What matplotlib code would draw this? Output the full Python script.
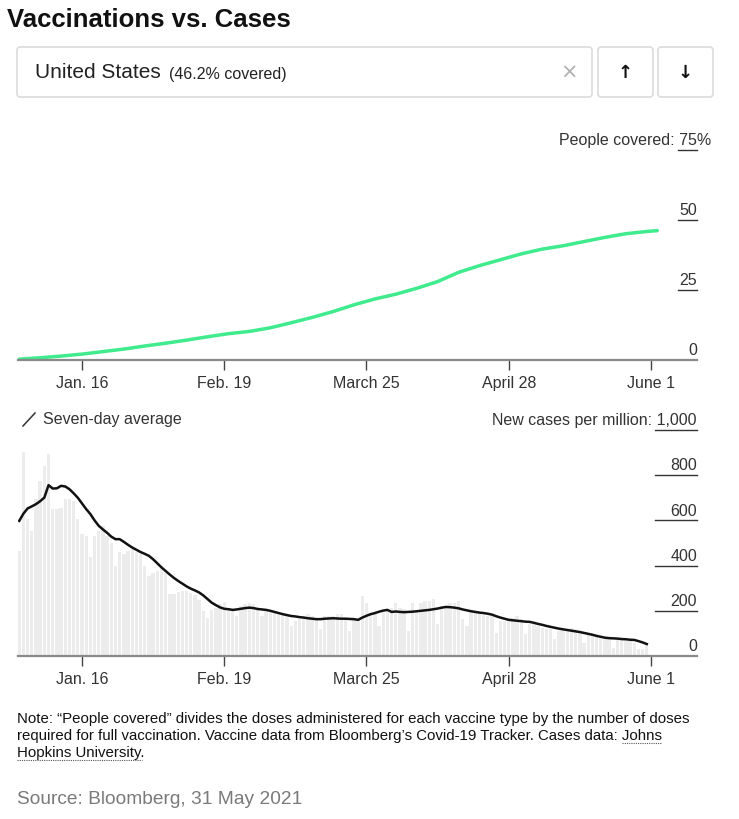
import matplotlib
matplotlib.use("Agg")
import matplotlib.pyplot as plt
from matplotlib.patches import FancyBboxPatch
from matplotlib import font_manager as fm
import numpy as np

# ---------------- data ----------------
tick_labels = ["Jan. 16", "Feb. 19", "March 25", "April 28", "June 1"]
tick_days = [15, 49, 83, 117, 151]          # days since Jan 1, 2021

# People covered (%) -- read at these days
vacc_days = [0, 5, 10, 15, 20, 25, 30, 35, 40, 45, 50, 55, 60, 65, 70, 75, 80,
             85, 90, 95, 100, 105, 110, 115, 120, 125, 130, 135, 140, 145, 150, 152.5]
vacc_pct = [0.3, 0.8, 1.4, 2.1, 3.0, 3.9, 5.0, 6.0, 7.1, 8.3, 9.4, 10.2, 11.5, 13.3,
            15.2, 17.3, 19.7, 21.8, 23.5, 25.6, 28.0, 31.3, 33.7, 35.8, 37.9, 39.6,
            40.8, 42.3, 43.8, 45.1, 45.9, 46.2]

# Daily new cases per million (Jan 1 .. May 31)
daily_cases = [465, 903, 604, 554, 694, 775, 841, 893, 650, 650,
               657, 694, 694, 686, 604, 538, 531, 436, 531, 554,
               576, 531, 502, 400, 458, 451, 465, 472, 458, 451,
               398, 354, 369, 376, 398, 369, 273, 273, 285, 287,
               287, 280, 270, 250, 200, 170, 205, 212, 232, 240,
               210, 200, 177, 222, 229, 236, 229, 214, 177, 200,
               200, 192, 185, 185, 177, 133, 155, 162, 177, 185,
               175, 162, 118, 177, 177, 177, 185, 185, 170, 111,
               162, 162, 266, 236, 192, 192, 133, 199, 207, 214,
               236, 214, 207, 111, 236, 199, 236, 244, 244, 251,
               140, 222, 222, 236, 236, 244, 162, 133, 199, 199,
               192, 180, 177, 177, 103, 155, 155, 170, 170, 177,
               162, 96, 140, 140, 133, 126, 118, 118, 74, 111,
               118, 111, 126, 118, 103, 59, 103, 96, 89, 89,
               81, 74, 37, 74, 74, 66, 66, 59, 30, 30, 52]

# Seven-day average of new cases per million
avg_cases = [598, 630, 653, 662, 672, 685, 701, 756, 741, 742,
             753, 750, 738, 720, 700, 675, 650, 628, 600, 576,
             560, 545, 528, 517, 517, 505, 492, 480, 470, 460,
             452, 443, 428, 410, 392, 376, 360, 345, 332, 320,
             308, 298, 290, 281, 268, 252, 236, 225, 215, 209,
             207, 204, 206, 209, 212, 214, 212, 208, 206, 204,
             200, 195, 190, 185, 181, 177, 175, 172, 170, 167,
             165, 163, 163, 165, 166, 167, 166, 165, 165, 164,
             163, 160, 170, 178, 185, 190, 196, 201, 204, 195,
             197, 195, 194, 195, 196, 198, 200, 202, 204, 207,
             210, 214, 217, 216, 214, 211, 206, 202, 198, 195,
             192, 190, 187, 183, 176, 170, 165, 160, 158, 156,
             154, 152, 151, 147, 142, 138, 133, 129, 125, 121,
             118, 115, 112, 109, 106, 102, 98, 94, 89, 85,
             81, 79, 78, 77, 75, 74, 72, 71, 66, 60, 53]

vacc_ticks = [0, 25, 50]
vacc_labels = ["0", "25", "50"]
case_ticks = [0, 200, 400, 600, 800]
case_labels = ["0", "200", "400", "600", "800"]

# ---------------- fonts ----------------
REG = "Liberation Sans"

W, H = 739, 820
fig = plt.figure(figsize=(W / 100, H / 100), dpi=100)
fig.patch.set_facecolor("white")
renderer = fig.canvas.get_renderer()

def rect(top, bottom, left=18, right=697):
    return [left / W, 1 - bottom / H, (right - left) / W, (bottom - top) / H]

XLIM = (-0.3, 162.0)
AXIS_C = "#8a8a8a"
TXT_C = "#333333"
FS = 11.5

def style_axis(ax, ymax):
    ax.set_xlim(*XLIM)
    ax.set_ylim(0, ymax)
    for s in ["left", "right", "top"]:
        ax.spines[s].set_visible(False)
    ax.spines["bottom"].set_color(AXIS_C)
    ax.spines["bottom"].set_linewidth(1.6)
    ax.set_yticks([])
    ax.set_xticks(tick_days)
    ax.set_xticklabels(tick_labels, fontsize=FS, color=TXT_C, family=REG)
    ax.tick_params(axis="x", length=7, width=1, color="#444444", pad=4)
    ax.patch.set_alpha(0)

# ---------------- top chart ----------------
ax1 = fig.add_axes(rect(151, 361))
style_axis(ax1, 75)
ax1.plot(vacc_days, vacc_pct, color="#3feb8c", lw=2.5, solid_capstyle="round", clip_on=False)

# ---------------- bottom chart ----------------
ax2 = fig.add_axes(rect(431, 657))
style_axis(ax2, 1000)
days = np.arange(len(daily_cases))
ax2.bar(days, daily_cases, width=0.8, color="#ececec", align="center", zorder=1)
ax2.plot(np.arange(len(avg_cases)), avg_cases, color="#111111", lw=1.8, zorder=3)

def ylabels(ax, ticks, labels, ymax, widths):
    for t, lab, wdt in zip(ticks, labels, widths):
        yf = t / ymax
        ax.text(1.0, yf + 0.012, lab, transform=ax.transAxes,
                ha="right", va="bottom", fontsize=FS, color=TXT_C, family=REG)
        if t != 0:
            ax.plot([1.0 - wdt / 679, 1.0], [yf, yf], transform=ax.transAxes,
                    color="#333333", lw=1.0, clip_on=False)

ylabels(ax1, vacc_ticks, vacc_labels, 75, [0, 19, 19])
ylabels(ax2, case_ticks, case_labels, 1000, [0, 42, 42, 42, 42])

# overlay for text in pixel coordinates
ov = fig.add_axes([0, 0, 1, 1])
ov.set_xlim(0, W)
ov.set_ylim(H, 0)
ov.axis("off")
ov.patch.set_alpha(0)

def text_width_px(s, **kw):
    t = ov.text(0, 0, s, **kw)
    w = t.get_window_extent(renderer=renderer).width
    t.remove()
    return w

# Title
ov.text(7, 20, "Vaccinations vs. Cases", fontsize=18.5, fontweight="bold",
        family=REG, color="#111111", va="center", ha="left")

# Search box and buttons
for (x0, x1) in [(17, 592), (598, 653), (658, 713)]:
    ov.add_patch(FancyBboxPatch((x0, 48), x1 - x0, 50,
                                boxstyle="round,pad=0,rounding_size=3",
                                fc="white", ec="#dcdcdc", lw=1.2))
ov.text(35, 73, "United States", fontsize=15, family=REG, color="#222222",
        va="center", ha="left")
ov.text(169, 74, "(46.2% covered)", fontsize=11.5, family=REG, color="#222222",
        va="center", ha="left")
ov.text(569, 73, "\u00d7", fontsize=15, color="#b0b0b0", va="center", ha="center", family="DejaVu Sans")
ov.text(625, 73, "\u2191", fontsize=13, fontweight="bold", color="#111111", va="center", ha="center", family="DejaVu Sans")
ov.text(685, 73, "\u2193", fontsize=13, fontweight="bold", color="#111111", va="center", ha="center", family="DejaVu Sans")

# Top chart header
ov.text(711, 141, "People covered: 75%", fontsize=FS, family=REG, color=TXT_C,
        ha="right", va="center")
ov.plot([678, 697], [151, 151], color="#333333", lw=1.0)

# Bottom chart header
ov.plot([23, 35], [427, 414], color="#333333", lw=1.1)
ov.text(43, 420, "Seven-day average", fontsize=FS, family=REG, color=TXT_C, ha="left", va="center")
ov.text(697, 421, "New cases per million: 1,000", fontsize=FS, family=REG, color=TXT_C,
        ha="right", va="center")
ov.plot([655, 697], [431, 431], color="#333333", lw=1.0)

# Note
NOTE_FS = 10.8
note_lines = [
    "Note: \u201cPeople covered\u201d divides the doses administered for each vaccine type by the number of doses",
    "required for full vaccination. Vaccine data from Bloomberg\u2019s Covid-19 Tracker. Cases data: Johns",
    "Hopkins University.",
]
nkw = dict(fontsize=NOTE_FS, family=REG, color="#111111")
for i, ln in enumerate(note_lines):
    ov.text(17, 719 + 17 * i, ln, ha="left", va="center", **nkw)
# dotted underlines for the link text
pre = text_width_px("required for full vaccination. Vaccine data from Bloomberg\u2019s Covid-19 Tracker. Cases data: ", **nkw)
wj = text_width_px("Johns", **nkw)
ov.plot([17 + pre, 17 + pre + wj], [744, 744], color="#555555", lw=0.8, ls=(0, (1, 1)))
wh = text_width_px("Hopkins University", **nkw)
ov.plot([17, 17 + wh], [761, 761], color="#555555", lw=0.8, ls=(0, (1, 1)))

# Source
ov.text(17, 800, "Source: Bloomberg, 31 May 2021", fontsize=13.8, family=REG, color="#7a7a7a",
        ha="left", va="center")

fig.savefig("out.png", dpi=100, facecolor="white")
